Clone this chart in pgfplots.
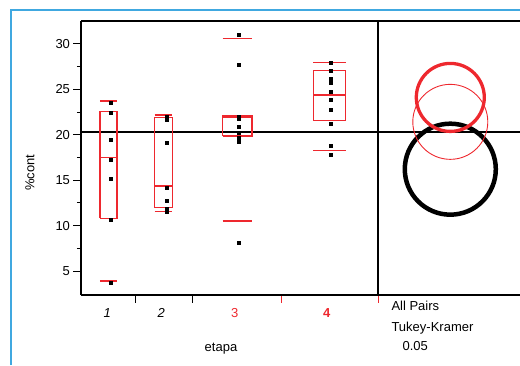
\documentclass[border=0pt]{standalone}
\usepackage{pgfplots}
\pgfplotsset{compat=1.18}
\usepackage{fontspec}
\setmainfont{Liberation Sans}
\definecolor{jred}{RGB}{238,40,46}
\definecolor{jblue}{RGB}{64,168,224}
\begin{document}
\begin{tikzpicture}[font=\fontsize{13}{15}\selectfont]
\begin{axis}[
  at={(0,0)}, anchor=south west,
  scale only axis, width=439pt, height=274pt,
  xmin=0, xmax=439, ymin=2.37, ymax=32.53,
  clip=false,
  axis line style={draw=none},
  tick pos=left, tick align=outside,
  ytick={5,10,15,20,25,30},
  minor ytick={7.5,12.5,17.5,22.5,27.5},
  xtick={55,111.3}, xticklabels={},
  extra x ticks={200.7,297}, extra x tick labels={},
  extra x tick style={tick style={jred,line width=0.7pt}},
  major tick length=7.5pt, minor tick length=4pt,
  tick style={black,line width=1pt},
  tick label style={font=\fontsize{13}{15}\selectfont},
  /pgf/number format/assume math mode=true,
  unbounded coords=jump,
]
% axis frame (right edge is cut off)
\draw[line width=1.2pt] (rel axis cs:0,0) -- (rel axis cs:1,0);
\draw[line width=1.2pt] (rel axis cs:0,1) -- (rel axis cs:1,1);
\draw[line width=1.2pt] (rel axis cs:0,0) -- (rel axis cs:0,1);
% divider and grand mean
\addplot[black, line width=1.2pt] coordinates {(297,2.37) (297,32.53)};
\addplot[black, line width=1.1pt] coordinates {(0,20.31) (439,20.31)};
% quantile boxes
\addplot[jred, line width=1.5pt] coordinates {
 (19,10.8) (36,10.8) (36,22.55) (19,22.55) (19,10.8) (nan,nan)
 (19,17.5) (36,17.5) (nan,nan)
 (19,23.7) (36,23.7) (nan,nan)
 (19,3.9) (36,3.9)};
\addplot[jred, line width=1.5pt] coordinates {
 (73.7,12.0) (91.3,12.0) (91.3,21.9) (73.7,21.9) (73.7,12.0) (nan,nan)
 (73.7,14.35) (91.3,14.35) (nan,nan)
 (73.7,22.2) (91.3,22.2) (nan,nan)
 (73.7,11.55) (91.3,11.55)};
\addplot[jred, line width=1.5pt] coordinates {
 (141.5,19.85) (171,19.85) (171,22.1) (141.5,22.1) (141.5,19.85) (nan,nan)
 (141.5,21.9) (171,21.9) (nan,nan)
 (141.5,30.6) (171,30.6) (nan,nan)
 (141.5,10.5) (171,10.5)};
\addplot[jred, line width=1.5pt] coordinates {
 (232.3,21.6) (264.7,21.6) (264.7,27.1) (232.3,27.1) (232.3,21.6) (nan,nan)
 (232.3,24.4) (264.7,24.4) (nan,nan)
 (232.3,27.95) (264.7,27.95) (nan,nan)
 (232.3,18.25) (264.7,18.25)};
% observations
\addplot[only marks, mark=square*, mark size=1.5pt, black] coordinates {
 (29.3,23.5) (29.3,22.4) (29.3,19.5) (29.3,17.3) (29.3,15.2) (29.3,10.7) (29.3,3.7)
 (85.3,22.05) (85.3,21.7) (85.3,19.1) (85.3,14.15) (85.3,12.7) (85.3,11.85) (85.3,11.5)
 (157.3,31.0) (157.3,27.7) (157.3,22.0) (157.3,21.75) (157.3,20.85) (157.3,20.2) (157.3,19.7) (157.3,19.2) (157.3,8.1)
 (249.3,27.9) (249.3,27.1) (249.3,26.2) (249.3,25.7) (249.3,24.8) (249.3,23.85) (249.3,22.75) (249.3,21.2) (249.3,18.8) (249.3,17.8)};
% comparison circles
\addplot[only marks, mark=o, mark size=45.5pt, mark options={draw=black, line width=4.5pt}] coordinates {(369.3,16.22)};
\addplot[only marks, mark=o, mark size=37.5pt, mark options={draw=jred, line width=0.9pt}] coordinates {(369.3,21.43)};
\addplot[only marks, mark=o, mark size=34pt, mark options={draw=jred, line width=3.3pt}] coordinates {(369.3,24.12)};
% category labels
\node[anchor=base, yshift=-22.7pt] at (axis cs:26.3,2.37) {\itshape 1};
\node[anchor=base, yshift=-22.7pt] at (axis cs:80.3,2.37) {\itshape 2};
\node[anchor=base, yshift=-22.7pt, text=jred] at (axis cs:153.7,2.37) {3};
\node[anchor=base, yshift=-22.7pt, text=jred] at (axis cs:245.7,2.37) {\bfseries 4};
\node[anchor=base, yshift=-56pt] at (axis cs:140,2.37) {etapa};
\node[anchor=base west, yshift=-15.7pt] at (axis cs:307,2.37) {All Pairs};
\node[anchor=base west, yshift=-36pt] at (axis cs:307,2.37) {Tukey-Kramer};
\node[anchor=base west, yshift=-55.3pt] at (axis cs:318,2.37) {0.05};
\end{axis}
\node[rotate=90] at (-51pt,122.5pt) {\%cont};
\draw[jblue, line width=1.3pt] (-70pt,-70pt) -- (-70pt,285pt) -- (439pt,285pt);
\pgfresetboundingbox
\useasboundingbox (-81pt,-70pt) rectangle (439pt,295pt);
\end{tikzpicture}
\end{document}
